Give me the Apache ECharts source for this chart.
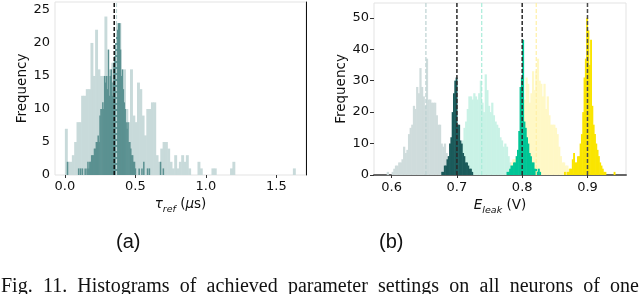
<!DOCTYPE html>
<html><head><meta charset="utf-8">
<script src="https://cdn.jsdelivr.net/npm/echarts@6/dist/echarts.min.js"></script>
<style>html,body{margin:0;padding:0;background:#fff}#c{width:640px;height:294px}</style>
</head><body><div id="c"></div>
<script>
// ---------- Panel (a): tau_ref histograms ----------
const tauTicks = [0.0, 0.5, 1.0, 1.5];
const tauLightStart = 0.0, tauLightWidth = 0.0165;
const tauLightCounts = [7,2,2,3,5,8,8,12,12,13, 13,20,15,22,16,15,15,24,15,16,
  17,18,23,23,14,16,10,8,16,9, 8,14,13,9,6,10,10,11,11,3,
  2,4,5,5,4,2,1,3,1,2, 3,2,3,1,0,0,0,2,1,0,
  0,0,0,1,1,0,0,0,0,0, 0,1,2,0,0,0,0,0,0,0,
  0,0,0,0,0,0,0,0,0,0, 0,0,0,0,0,0,0,0,1];
const tauDarkStart = 0.0, tauDarkWidth = 0.0066;
const tauDarkCounts = [0,0,2,0,0,0,0,0,0,0, 0,0,0,0,1,0,1,0,1,0,
  0,1,0,1,2,1,2,2,3,3, 3,4,4,5,5,6,5,9,10,10,
  11,10,15,14,15,13,19,12,15,16, 12,14,17,18,20,21,22,23,23,19,
  15,16,13,11,10,8,7,8,5,5, 4,3,3,2,2,1,0,0,0,1,
  0,0,1,0,2,0,0,0,1,0, 1,0,0,0,0,0,0,0,0,0, 0,0,2,0,0,1];
const tauTargetLine = 0.35, tauMeanLine = 0.366;

// ---------- Panel (b): E_leak histograms ----------
const eTicks = [0.6, 0.7, 0.8, 0.9];
const eGrayStart = 0.59, eGrayWidth = 0.0025;
const eGrayCounts = [0,1,0,0,1,2,3,3,4,4,5,9,7,8,13,15,16,22,21,28,26,34,28,25,22,37,24,24,23,23,23,19,16,16,10,9,10,7,6,4,3,2,1,1];
const eDarkStart = 0.674, eDarkWidth = 0.002;
const eDarkCounts = [0,1,1,3,3,5,6,10,12,20,26,30,31,16,16,11,10,7,6,4,4,3,2,2,1];
const eMintStart = 0.6975, eMintWidth = 0.0025;
const eMintCounts = [2,3,6,9,11,15,17,21,25,25,24,26,25,24,26,30,23,20,32,27,22,20,23,19,17,16,15,12,11,9,10,9,6,4,3,2,1];
const eTealStart = 0.776, eTealWidth = 0.002;
const eTealCounts = [1,1,2,3,3,4,4,6,8,14,28,31,43,17,15,12,10,7,6,4,4,2,2,1,2,1];
const eLightYStart = 0.7775, eLightYWidth = 0.0025;
const eLightYCounts = [1,2,4,5,5,6,8,11,15,21,24,31,29,23,26,33,27,33,37,30,29,25,29,21,25,19,16,16,16,15,13,9,6,4,4,3,3,2,1];
const eYellowStart = 0.864, eYellowWidth = 0.002;
const eYellowCounts = [1,0,1,1,2,2,5,7,4,4,6,6,10,13,20,31,37,50,46,35,43,22,16,13,10,8,6,4,3,2,1,1,0,0,0,0,0,0,1];
const eTargetLines = [0.7, 0.8, 0.9];
const eMeanLines = {gray: 0.6525, mint: 0.738, lightY: 0.8215};

// ---------- helpers ----------
function toBins(start, width, counts) {
  const out = [];
  counts.forEach((c, i) => { if (c > 0) out.push([start + i * width, start + (i + 1) * width, c]); });
  return out;
}
function histSeries(idx, start, width, counts, color, z) {
  return {
    type: 'custom', xAxisIndex: idx, yAxisIndex: idx, z: z, clip: true, silent: true,
    encode: {x: [0, 1], y: 2},
    data: toBins(start, width, counts),
    renderItem: (params, api) => {
      const p0 = api.coord([api.value(0), api.value(2)]);
      const p1 = api.coord([api.value(1), 0]);
      return {type: 'rect', shape: {x: p0[0], y: p0[1], width: p1[0] - p0[0] + 0.6, height: p1[1] - p0[1]},
        style: {fill: color}};
    }
  };
}
function vline(idx, x, color, width, z) {
  return {
    type: 'custom', xAxisIndex: idx, yAxisIndex: idx, z: z, silent: true,
    encode: {x: 0, y: 1},
    data: [[x, 0]],
    renderItem: (params, api) => {
      const cs = params.coordSys;
      const px = api.coord([api.value(0), 0])[0];
      return {type: 'line', shape: {x1: px, y1: cs.y + cs.height, x2: px, y2: cs.y},
        style: {stroke: color, lineWidth: width, lineDash: [4, 2]}};
    }
  };
}

const F = 'DejaVu Sans';
const tickLbl = {fontFamily: F, fontSize: 13, color: '#111'};
const richName = {
  m: {fontFamily: F, fontSize: 13.5, color: '#111', lineHeight: 15, verticalAlign: 'top'},
  i: {fontFamily: F, fontSize: 13.5, fontStyle: 'italic', color: '#111', lineHeight: 15, verticalAlign: 'top'},
  s: {fontFamily: F, fontSize: 9.5, fontStyle: 'italic', color: '#111', lineHeight: 10, verticalAlign: 'top', padding: [7, 0, 0, 0]}
};

const chart = echarts.init(document.getElementById('c'), null, {renderer: 'canvas', width: 640, height: 294});

// caption words justified across the width
const captionWords = ['Fig.', '11.', 'Histograms', 'of', 'achieved', 'parameter', 'settings', 'on', 'all', 'neurons', 'of', 'one'];
const capFont = '20px "Liberation Serif"';
const ctx = document.createElement('canvas').getContext('2d');
ctx.font = capFont;
const widths = captionWords.map(w => ctx.measureText(w).width);
const totalW = widths.reduce((a, b) => a + b, 0);
const gap = (639 - 1 - totalW) / (captionWords.length - 1);
const capGraphics = [];
let cx = 1;
captionWords.forEach((w, i) => {
  capGraphics.push({type: 'text', left: cx, top: 277, silent: true,
    style: {text: w, font: capFont, fill: '#111'}});
  cx += widths[i] + gap;
});

chart.setOption({
  animation: false,
  backgroundColor: '#fff',
  grid: [
    {left: 55, top: 2, width: 251, height: 173, show: true, borderColor: '#e3e3e3', borderWidth: 1},
    {left: 374, top: 3, width: 252, height: 172, show: true, borderColor: '#e3e3e3', borderWidth: 1}
  ],
  xAxis: [
    {gridIndex: 0, type: 'value', min: -0.07, max: 1.71,
      axisLine: {show: false},
      axisTick: {show: true, customValues: tauTicks, length: 3, lineStyle: {color: '#333'}},
      axisLabel: Object.assign({customValues: tauTicks, margin: 5, formatter: v => v.toFixed(1)}, tickLbl),
      splitLine: {show: false},
      name: '{i|τ}{s|ref}{m| (}{i|μ}{m|s)}', nameLocation: 'middle', nameGap: 20,
      nameTextStyle: {rich: richName}},
    {gridIndex: 1, type: 'value', min: 0.573, max: 0.959,
      axisLine: {show: true, lineStyle: {color: '#666', width: 2}},
      axisTick: {show: true, customValues: eTicks, length: 3, lineStyle: {color: '#333'}},
      axisLabel: Object.assign({customValues: eTicks, margin: 6, formatter: v => v.toFixed(1)}, tickLbl),
      splitLine: {show: false},
      name: '{i|E}{s|leak}{m| (V)}', nameLocation: 'middle', nameGap: 20,
      nameTextStyle: {rich: richName}}
  ],
  yAxis: [
    {gridIndex: 0, type: 'value', min: 0, max: 26.2, interval: 5,
      axisLine: {show: false}, axisTick: {show: false}, splitLine: {show: false},
      axisLabel: Object.assign({margin: 5, showMaxLabel: false}, tickLbl),
      name: 'Frequency', nameLocation: 'middle', nameRotate: 90, nameGap: 21,
      nameTextStyle: {fontFamily: F, fontSize: 13.5, color: '#111'}},
    {gridIndex: 1, type: 'value', min: 0, max: 54.7, interval: 10,
      axisLine: {show: false}, splitLine: {show: false},
      axisTick: {show: true, length: 4, lineStyle: {color: '#333'}},
      axisLabel: Object.assign({margin: 5, showMaxLabel: false}, tickLbl),
      name: 'Frequency', nameLocation: 'middle', nameRotate: 90, nameGap: 15,
      nameTextStyle: {fontFamily: F, fontSize: 13.5, color: '#111'}},
    {gridIndex: 0, type: 'value', min: 0, max: 26.2, position: 'right',
      axisLine: {show: true, onZero: false, lineStyle: {color: '#111', width: 1}},
      axisTick: {show: false}, axisLabel: {show: false}, splitLine: {show: false}}
  ],
  series: [
    histSeries(0, tauLightStart, tauLightWidth, tauLightCounts, '#c8dada', 1),
    histSeries(0, tauDarkStart, tauDarkWidth, tauDarkCounts, '#5b9191', 2),
    vline(0, tauMeanLine, '#c3d8d8', 1.2, 3),
    vline(0, tauTargetLine, '#111', 1.5, 4),

    histSeries(1, eGrayStart, eGrayWidth, eGrayCounts, '#cfdcdc', 1),
    histSeries(1, eMintStart, eMintWidth, eMintCounts, '#c9f2e6', 1),
    histSeries(1, eLightYStart, eLightYWidth, eLightYCounts, '#fff8c6', 1),
    histSeries(1, eDarkStart, eDarkWidth, eDarkCounts, '#1b5b5b', 2),
    histSeries(1, eTealStart, eTealWidth, eTealCounts, '#00c596', 2),
    histSeries(1, eYellowStart, eYellowWidth, eYellowCounts, '#fae500', 2),
    vline(1, eMeanLines.gray, '#bcd2d2', 1.2, 3),
    vline(1, eMeanLines.mint, '#a9ecd9', 1.2, 3),
    vline(1, eMeanLines.lightY, '#fff0a6', 1.2, 3),
    ...eTargetLines.map(x => vline(1, x, x > 0.85 ? '#4a4a4a' : '#2a2a2a', 1.5, 4))
  ],
  graphic: [
    {type: 'text', left: 116, top: 232, silent: true,
      style: {text: '(a)', font: '20px "Liberation Sans"', fill: '#111'}},
    {type: 'text', left: 379, top: 232, silent: true,
      style: {text: '(b)', font: '20px "Liberation Sans"', fill: '#111'}},
    ...capGraphics
  ]
});
</script>
</body></html>
